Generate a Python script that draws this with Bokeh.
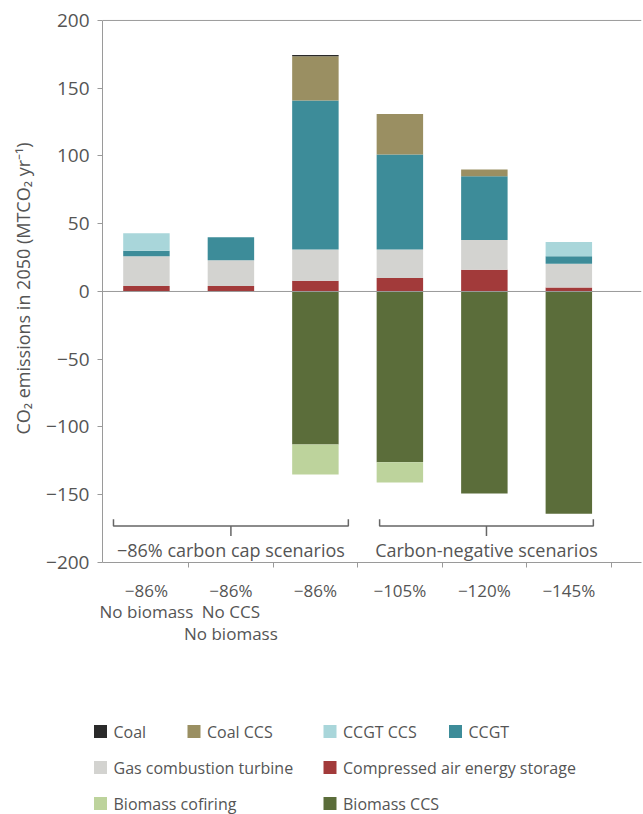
from bokeh.plotting import figure
from bokeh.layouts import column, row
from bokeh.models import Range1d, FixedTicker, Span, ColumnDataSource
from bokeh.core.properties import value
from bokeh.embed import file_html
from bokeh.resources import INLINE

# ---------------- data ----------------
scenario_labels = ["−86%\nNo biomass", "−86%\nNo CCS\nNo biomass", "−86%",
                   "−105%", "−120%", "−145%"]
pos_series = ["Compressed air energy storage", "Gas combustion turbine", "CCGT",
              "CCGT CCS", "Coal CCS", "Coal"]
caes = [4, 4, 8, 10, 16, 3]
gas_ct = [22, 19, 23, 21, 22, 17.5]
ccgt = [4, 17, 110, 70, 47, 5.5]
ccgt_ccs = [13, 0, 0, 0, 0, 10.5]
coal_ccs = [0, 0, 32.5, 30, 5, 0]
coal = [0, 0, 1, 0, 0, 0]
neg_series = ["Biomass CCS", "Biomass cofiring"]
biomass_ccs = [0, 0, -113, -126, -149, -164]
biomass_cofiring = [0, 0, -22, -15, 0, 0]

group_labels = ["−86% carbon cap scenarios", "Carbon-negative scenarios"]
group_first = [0, 3]
group_last = [2, 5]

y_ticks = [-200, -150, -100, -50, 0, 50, 100, 150, 200]

legend_items = ["Coal", "Coal CCS", "CCGT CCS", "CCGT",
                "Gas combustion turbine", "Compressed air energy storage",
                "Biomass cofiring", "Biomass CCS"]

colors = {
    "Coal": "#2a2a2a",
    "Coal CCS": "#9a8f62",
    "CCGT CCS": "#a9d6da",
    "CCGT": "#3d8c99",
    "Gas combustion turbine": "#d3d3d0",
    "Compressed air energy storage": "#a23a3a",
    "Biomass cofiring": "#bdd39c",
    "Biomass CCS": "#5b6d3a",
}

FONT = "Open Sans"
TXT = "#555555"
AX = "#9a9a9a"

x = list(range(len(scenario_labels)))
src = ColumnDataSource(dict(
    x=x,
    **{"Compressed air energy storage": caes, "Gas combustion turbine": gas_ct,
       "CCGT": ccgt, "CCGT CCS": ccgt_ccs, "Coal CCS": coal_ccs, "Coal": coal,
       "Biomass CCS": biomass_ccs, "Biomass cofiring": biomass_cofiring}))

# ---------------- main figure ----------------
MAIN_H = 662
p = figure(width=643, height=MAIN_H, output_backend="svg", toolbar_location=None,
           x_range=Range1d(-0.52, 5.86), y_range=Range1d(-200, 204.4),
           min_border_left=102, min_border_right=2, min_border_top=14,
           min_border_bottom=MAIN_H - 14 - 548)
p.outline_line_color = None
p.xgrid.visible = False
p.ygrid.visible = False

p.vbar_stack(pos_series, x="x", width=0.55, source=src,
             color=[colors[s] for s in pos_series], line_color=None)
p.vbar_stack(neg_series, x="x", width=0.55, source=src,
             color=[colors[s] for s in neg_series], line_color=None)

for yv in (0, 200):
    p.add_layout(Span(location=yv, dimension="width", line_color=AX, line_width=1))

# y axis
ya = p.yaxis[0]
ya.ticker = FixedTicker(ticks=y_ticks)
ya.bounds = (-200, 200)
ya.major_label_overrides = {t: (str(t).replace("-", "−")) for t in y_ticks}
ya.axis_line_color = AX
ya.major_tick_line_color = AX
ya.major_tick_out = 5
ya.major_tick_in = 0
ya.minor_tick_line_color = None
ya.major_label_standoff = 8
ya.major_label_text_font = FONT
ya.major_label_text_font_size = "19px"
ya.major_label_text_color = TXT
ya.axis_label = "CO₂ emissions in 2050 (MTCO₂ yr⁻¹)"
ya.axis_label_text_font = FONT
ya.axis_label_text_font_size = "18px"
ya.axis_label_text_font_style = "normal"
ya.axis_label_text_color = TXT
ya.axis_label_standoff = 8

# x axis
xa = p.xaxis[0]
xa.ticker = FixedTicker(ticks=x, minor_ticks=[i + 0.5 for i in x])
xa.major_label_overrides = {i: lab for i, lab in zip(x, scenario_labels)}
xa.axis_line_color = AX
xa.major_tick_line_color = None
xa.minor_tick_line_color = AX
xa.minor_tick_out = 5
xa.minor_tick_in = 0
xa.major_label_standoff = 10
xa.major_label_text_font = FONT
xa.major_label_text_font_size = "17px"
xa.major_label_text_line_height = 0.95
xa.major_label_text_color = TXT

# group brackets
pads = [(0.39, 0.39), (0.24, 0.29)]
yb, yend, ytick = -173, -168, -180.5
for lab, f, l, (pl, pr) in zip(group_labels, group_first, group_last, pads):
    x0, x1 = f - pl, l + pr
    xc = (x0 + x1) / 2
    p.line([x0, x0, x1, x1], [yend, yb, yb, yend], line_color="#666666", line_width=1.5)
    p.line([xc, xc], [yb, ytick], line_color="#666666", line_width=1.5)
    p.text(x=[xc], y=[-190.8], text=[lab], text_align="center", text_baseline="middle",
           text_font=value(FONT), text_font_size="18px", text_color=TXT)

# ---------------- legend figure ----------------
LG_H = 814 - MAIN_H
lg = figure(width=643, height=LG_H, output_backend="svg", toolbar_location=None,
            x_range=Range1d(0, 643), y_range=Range1d(0, LG_H),
            x_axis_location=None, y_axis_location=None,
            min_border=0)
lg.outline_line_color = None
lg.xgrid.visible = False
lg.ygrid.visible = False

col_x = [100, 193.5, 329.5, 455]
row_y = [83, 47, 11]
slots = [(0, 0), (1, 0), (2, 0), (3, 0), (0, 1), (2, 1), (0, 2), (2, 2)]
lx = [col_x[c] for c, r in slots]
ly = [row_y[r] for c, r in slots]
lg.scatter(lx, ly, marker="square", size=13, line_color=None,
           fill_color=[colors[n] for n in legend_items])
lg.text(x=[v + 13 for v in lx], y=ly, text=legend_items, text_baseline="middle",
        text_font=value(FONT), text_font_size="16px", text_color=TXT)

layout = column(p, row(lg), spacing=0)
open("out.html", "w").write(file_html(layout, INLINE))
